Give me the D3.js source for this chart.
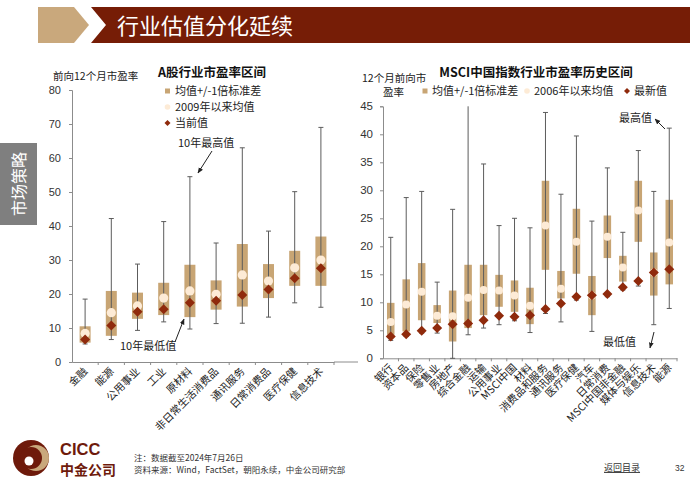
<!DOCTYPE html>
<html><head><meta charset="utf-8">
<script src="https://cdn.jsdelivr.net/npm/d3@7/dist/d3.min.js"></script>
<style>
html,body{margin:0;padding:0;background:#fff;}
svg{display:block;font-family:"Liberation Sans","Noto Sans CJK SC",sans-serif;}
.cjk{font-family:"Noto Sans CJK SC","Liberation Sans",sans-serif;}
</style></head>
<body>
<svg id="c" width="700" height="490"></svg>
<script>
// ---------- Left chart data: A股行业市盈率区间 ----------
const leftCats = ['金融','能源','公用事业','工业','原材料','非日常生活消费品','通讯服务','日常消费品','医疗保健','信息技术'];
const leftMax    = [18.5, 42.2, 28.8, 41.3, 54.5, 35.0, 63.0, 38.5, 50.1, 69.0];
const leftMin    = [5.3, 6.6, 9.3, 11.8, 9.7, 11.3, 11.4, 13.2, 17.4, 16.1];
const leftSdHigh = [10.5, 20.9, 20.4, 23.3, 28.6, 24.0, 34.7, 28.8, 32.7, 36.9];
const leftSdLow  = [5.7, 7.7, 12.7, 13.8, 13.2, 15.4, 16.3, 18.8, 22.4, 22.4];
const leftMean   = [8.4, 14.5, 16.5, 18.8, 20.9, 19.9, 25.6, 23.8, 27.7, 30.0];
const leftCur    = [6.6, 10.7, 14.8, 15.5, 17.4, 18.0, 19.7, 21.3, 24.6, 27.6];
const leftTicks  = [0, 10, 20, 30, 40, 50, 60, 70, 80];

// ---------- Right chart data: MSCI中国指数行业市盈率历史区间 ----------
const rightCats = ['银行','资本品','保险','零售业','房地产','综合金融','运输','公用事业','MSCI中国','材料','消费品和服务','通讯服务','医疗保健','汽车','日常消费','MSCI中国非金融','媒体与娱乐','信息技术','能源'];
const rightMax    = [21.6, 28.7, 29.8, 13.6, 26.6, 48.0, 34.7, 23.7, 25.0, 23.3, 43.9, 29.3, 39.7, 24.5, 34.0, 22.5, 37.1, 29.8, 41.1];
const rightMin    = [3.2, 3.9, 4.5, 4.5, 0.0, 4.2, 5.4, 6.0, 6.7, 4.6, 8.0, 6.5, 10.4, 4.8, 11.0, 12.2, 12.9, 6.0, 8.9];
const rightSdHigh = [9.9, 14.1, 17.0, 9.5, 12.1, 16.7, 16.7, 14.9, 13.9, 12.6, 31.7, 15.6, 26.7, 14.7, 25.5, 18.3, 31.7, 18.9, 28.3];
const rightSdLow  = [4.2, 4.8, 6.8, 6.3, 3.0, 5.4, 7.7, 9.2, 8.3, 6.1, 15.8, 10.7, 15.1, 7.7, 17.9, 13.7, 20.8, 11.2, 13.2];
const rightMean   = [6.5, 9.6, 11.9, 7.6, 7.5, 10.8, 12.2, 12.1, 11.2, 9.4, 23.7, 12.4, 20.8, 11.2, 21.7, 16.2, 26.4, 15.3, 20.7];
const rightCur    = [3.9, 4.3, 4.9, 5.4, 6.1, 6.2, 6.8, 7.6, 7.4, 7.7, 8.8, 9.8, 11.0, 11.25, 11.5, 12.7, 13.8, 15.3, 15.9];
const rightTicks  = [0, 5, 10, 15, 20, 25, 30, 35, 40, 45];

const C_BOX = '#c8a574', C_MEAN = '#fdebd6', C_CUR = '#8f2a0c', C_LINE = '#5c5c5c', C_AXIS = '#8c8c8c';
const svg = d3.select('#c');

// arrow marker
svg.append('defs').append('marker').attr('id','arr').attr('viewBox','0 0 10 10')
  .attr('refX',9).attr('refY',5).attr('markerWidth',6).attr('markerHeight',6).attr('orient','auto-start-reverse')
  .append('path').attr('d','M0,1 L10,5 L0,9 Z').attr('fill','#222');

// ---------- Header ----------
svg.append('polygon').attr('points','38,7 74,7 89,25 74,43 38,43').attr('fill','#c9a87c');
svg.append('polygon').attr('points','91,7 690,7 690,43 91,43 106,25').attr('fill','#761d06');
svg.append('text').attr('class','cjk').attr('x',117).attr('y',34).attr('fill','#fff')
  .attr('font-size',22).text('行业估值分化延续');

// side tab
svg.append('rect').attr('x',0).attr('y',143).attr('width',37).attr('height',82).attr('fill','#7f7f7f');
svg.append('text').attr('class','cjk').attr('transform','translate(25,184) rotate(-90)')
  .attr('text-anchor','middle').attr('fill','#fff').attr('font-size',16).text('市场策略');

function drawChart(o){
  const g = svg.append('g');
  const x = d3.scaleBand().domain(o.cats).range(o.xr).padding(0);
  const y = d3.scaleLinear().domain([0, o.yMax]).range(o.yr);
  const cx = c => x(c) + x.bandwidth()/2;
  // y axis
  const ya = g.append('g').attr('transform',`translate(${o.xr[0]},0)`)
    .call(d3.axisLeft(y).tickValues(o.ticks).tickSize(3).tickPadding(o.tickPad).tickFormat(d3.format('d')));
  ya.select('.domain').attr('stroke',C_AXIS);
  ya.selectAll('.tick line').attr('stroke',C_AXIS);
  ya.selectAll('.tick text').attr('font-size',o.tickFont).attr('fill','#333').attr('font-family','Liberation Sans');
  // x axis
  const xa = g.append('g').attr('transform',`translate(0,${o.yr[0]})`)
    .call(d3.axisBottom(x).tickSize(0).tickFormat(''));
  xa.select('.domain').attr('stroke',C_AXIS);
  const bounds = o.cats.map(c => x(c)).concat([o.xr[1]]).slice(1);
  g.selectAll('.bt').data(bounds).enter().append('line')
    .attr('x1',d=>d).attr('x2',d=>d).attr('y1',o.yr[0]).attr('y2',o.yr[0]+3).attr('stroke',C_AXIS);
  // x labels
  g.selectAll('.xl').data(o.cats).enter().append('text').attr('class','cjk')
    .attr('transform',c=>`translate(${cx(c)+3},${o.yr[0]+10}) rotate(-45)`)
    .attr('text-anchor','end').attr('font-size',o.labFont).attr('fill','#222').text(c=>c);
  // boxes
  const bw = o.bw;
  g.selectAll('.bx').data(o.cats).enter().append('rect')
    .attr('x',c=>cx(c)-bw/2).attr('width',bw)
    .attr('y',(c,i)=>y(o.sdHigh[i])).attr('height',(c,i)=>y(o.sdLow[i])-y(o.sdHigh[i]))
    .attr('fill',C_BOX);
  // whiskers
  o.cats.forEach((c,i)=>{
    const hi = Math.min(o.max[i], o.yMax);
    g.append('line').attr('x1',cx(c)).attr('x2',cx(c)).attr('y1',y(hi)).attr('y2',y(o.min[i]))
      .attr('stroke',C_LINE).attr('stroke-width',1);
    if (o.max[i] <= o.yMax)
      g.append('line').attr('x1',cx(c)-2.5).attr('x2',cx(c)+2.5).attr('y1',y(o.max[i])).attr('y2',y(o.max[i]))
        .attr('stroke',C_LINE);
    g.append('line').attr('x1',cx(c)-2.5).attr('x2',cx(c)+2.5).attr('y1',y(o.min[i])).attr('y2',y(o.min[i]))
      .attr('stroke',C_LINE);
  });
  // mean
  g.selectAll('.mn').data(o.cats).enter().append('circle')
    .attr('cx',cx).attr('cy',(c,i)=>y(o.mean[i])).attr('r',o.r).attr('fill',C_MEAN);
  // current
  const ds = o.ds;
  g.selectAll('.cu').data(o.cats).enter().append('path')
    .attr('d',(c,i)=>{const X=cx(c),Y=y(o.cur[i]);return `M${X},${Y-ds}L${X+ds},${Y}L${X},${Y+ds}L${X-ds},${Y}Z`;})
    .attr('fill',C_CUR);
  return {x,y,cx,g};
}

// ---------- Left chart ----------
const L = drawChart({cats:leftCats,max:leftMax,min:leftMin,sdHigh:leftSdHigh,sdLow:leftSdLow,mean:leftMean,cur:leftCur,
  ticks:leftTicks,yMax:80,xr:[72,334],yr:[362,90],bw:11,r:4.6,ds:5,tickFont:11,tickPad:8,labFont:10.5});
svg.append('line').attr('x1',334).attr('x2',358).attr('y1',362).attr('y2',362).attr('stroke',C_AXIS);
svg.append('text').attr('class','cjk').attr('x',212).attr('y',77).attr('text-anchor','middle')
  .attr('font-size',12.5).attr('font-weight','bold').attr('fill','#111').text('A股行业市盈率区间');
svg.append('text').attr('class','cjk').attr('x',53).attr('y',80).attr('font-size',10.5).attr('fill','#222').text('前向12个月市盈率');
// left legend
const legL = [['均值+/-1倍标准差','sq'],['2009年以来均值','ci'],['当前值','di']];
legL.forEach((d,i)=>{
  const yy = 91 + i*16;
  if(d[1]==='sq') svg.append('rect').attr('x',165).attr('y',yy-2.5).attr('width',5).attr('height',5).attr('fill',C_BOX);
  if(d[1]==='ci') svg.append('circle').attr('cx',167.5).attr('cy',yy).attr('r',2.8).attr('fill',C_MEAN);
  if(d[1]==='di') svg.append('path').attr('d',`M167.5,${yy-3}L170.5,${yy}L167.5,${yy+3}L164.5,${yy}Z`).attr('fill',C_CUR);
  svg.append('text').attr('class','cjk').attr('x',175).attr('y',yy+4).attr('font-size',11).attr('fill','#222').text(d[0]);
});
svg.append('text').attr('class','cjk').attr('x',178).attr('y',147).attr('font-size',11).attr('fill','#222').text('10年最高值');
svg.append('line').attr('x1',212).attr('y1',151).attr('x2',198).attr('y2',173).attr('stroke','#222').attr('marker-end','url(#arr)');
svg.append('text').attr('class','cjk').attr('x',120).attr('y',350).attr('font-size',11).attr('fill','#222').text('10年最低值');
svg.append('line').attr('x1',175).attr('y1',342).attr('x2',184).attr('y2',319).attr('stroke','#222').attr('marker-end','url(#arr)');

// ---------- Right chart ----------
const R = drawChart({cats:rightCats,max:rightMax,min:rightMin,sdHigh:rightSdHigh,sdLow:rightSdLow,mean:rightMean,cur:rightCur,
  ticks:rightTicks,yMax:45,xr:[383,677],yr:[358.3,106.3],bw:7.5,r:4,ds:5,tickFont:11.5,tickPad:7,labFont:10.5});
svg.append('text').attr('class','cjk').attr('x',536).attr('y',77).attr('text-anchor','middle')
  .attr('font-size',12.5).attr('font-weight','bold').attr('fill','#111').text('MSCI中国指数行业市盈率历史区间');
svg.append('text').attr('class','cjk').attr('x',362).attr('y',82).attr('font-size',10.5).attr('fill','#222').text('12个月前向市');
svg.append('text').attr('class','cjk').attr('x',383).attr('y',96).attr('font-size',10.5).attr('fill','#222').text('盈率');
const legR = [['均值+/-1倍标准差','sq',425],['2006年以来均值','ci',527],['最新值','di',627]];
legR.forEach(d=>{
  const yy = 91, xx = d[2];
  if(d[1]==='sq') svg.append('rect').attr('x',xx-2.5).attr('y',yy-2.5).attr('width',5).attr('height',5).attr('fill',C_BOX);
  if(d[1]==='ci') svg.append('circle').attr('cx',xx).attr('cy',yy).attr('r',2.8).attr('fill',C_MEAN);
  if(d[1]==='di') svg.append('path').attr('d',`M${xx},${yy-3}L${xx+3},${yy}L${xx},${yy+3}L${xx-3},${yy}Z`).attr('fill',C_CUR);
  svg.append('text').attr('class','cjk').attr('x',xx+7).attr('y',yy+4).attr('font-size',11).attr('fill','#222').text(d[0]);
});
svg.append('text').attr('class','cjk').attr('x',619).attr('y',122).attr('font-size',11).attr('fill','#222').text('最高值');
svg.append('line').attr('x1',665).attr('y1',129).attr('x2',655).attr('y2',119).attr('stroke','#222').attr('marker-end','url(#arr)');
svg.append('text').attr('class','cjk').attr('x',603).attr('y',346).attr('font-size',11).attr('fill','#222').text('最低值');
svg.append('line').attr('x1',654).attr('y1',332).attr('x2',650).attr('y2',348).attr('stroke','#222').attr('marker-end','url(#arr)');

// ---------- Footer ----------
svg.append('circle').attr('cx',31).attr('cy',458).attr('r',18).attr('fill','#6e1a0b');
svg.append('circle').attr('cx',36).attr('cy',458).attr('r',13).attr('fill','#c9a87c');
svg.append('circle').attr('cx',31).attr('cy',458).attr('r',11).attr('fill','#6e1a0b');
svg.append('circle').attr('cx',29).attr('cy',461).attr('r',4.5).attr('fill','#fff');
svg.append('text').attr('x',60).attr('y',455).attr('font-size',16.5).attr('font-weight','bold').attr('fill','#6e1a0b').text('CICC');
svg.append('text').attr('class','cjk').attr('x',60).attr('y',475).attr('font-size',14).attr('font-weight','bold').attr('fill','#6e1a0b').text('中金公司');
svg.append('text').attr('class','cjk').attr('x',134).attr('y',461).attr('font-size',8.5).attr('fill','#333').text('注：数据截至2024年7月26日');
svg.append('text').attr('class','cjk').attr('x',134).attr('y',473).attr('font-size',8.5).attr('fill','#333').text('资料来源：Wind，FactSet，朝阳永续，中金公司研究部');
svg.append('text').attr('class','cjk').attr('x',604).attr('y',471).attr('font-size',9).attr('fill','#333')
  .attr('text-decoration','underline').text('返回目录');
svg.append('text').attr('x',675).attr('y',471).attr('font-size',8.5).attr('fill','#333').text('32');
</script>
</body></html>
